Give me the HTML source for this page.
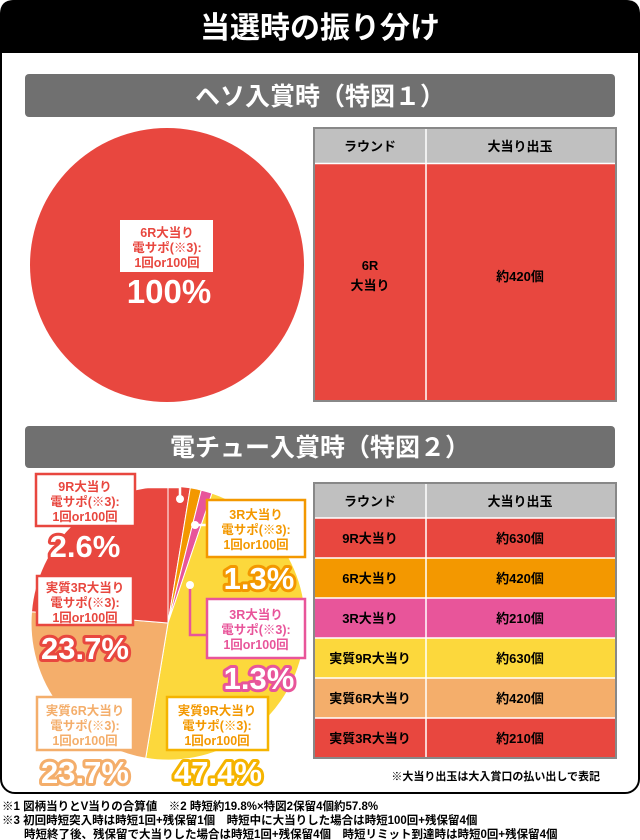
<!DOCTYPE html>
<html><head><meta charset="utf-8"><style>
html,body{margin:0;padding:0;background:#fff;}
svg{display:block;}
text{font-family:"Liberation Sans","Noto Sans CJK JP",sans-serif;font-weight:bold;}
</style></head><body>
<svg width="640" height="840" viewBox="0 0 640 840" xmlns="http://www.w3.org/2000/svg">
<rect x="1" y="1" width="638" height="792" rx="14" fill="#fff" stroke="#000" stroke-width="2"/>
<path d="M0 53 V14 Q0 0 14 0 H626 Q640 0 640 14 V53 Z" fill="#000"/>
<text x="320" y="38" font-size="30" fill="#fff" text-anchor="middle">当選時の振り分け</text>

<rect x="25" y="74" width="590" height="43" rx="4" fill="#707070"/>
<text x="320" y="105" font-size="25" fill="#fff" text-anchor="middle" font-weight="normal">ヘソ入賞時（特図１）</text>

<ellipse cx="167" cy="265" rx="137" ry="137" fill="#e8473f"/>
<rect x="120" y="220" width="93" height="52" fill="#fff"/>
<g font-size="12.5" fill="#e8473f" text-anchor="middle">
<text x="167" y="237">6R大当り</text><text x="167" y="252">電サポ(※3):</text><text x="167" y="267">1回or100回</text></g>
<text x="169" y="303" font-size="33" fill="#fff" text-anchor="middle">100%</text>

<rect x="314" y="128" width="302" height="273" fill="#e8473f" stroke="#888" stroke-width="2"/>
<rect x="315" y="129" width="300" height="34" fill="#c0c0c0"/>
<line x1="426" y1="129" x2="426" y2="400" stroke="#fff" stroke-width="1.5"/>
<line x1="315" y1="163.5" x2="615" y2="163.5" stroke="#fff" stroke-width="1.5"/>
<g font-size="13" fill="#000" text-anchor="middle">
<text x="370" y="151">ラウンド</text><text x="520" y="151">大当り出玉</text>
<text x="370" y="270">6R</text><text x="370" y="290">大当り</text>
<text x="520" y="281">約420個</text></g>

<rect x="25" y="426" width="590" height="42" rx="4" fill="#707070"/>
<text x="320" y="456" font-size="25" fill="#fff" text-anchor="middle" font-weight="normal">電チュー入賞時（特図２）</text>

<g stroke="#fff" stroke-width="1">
<path d="M168 623 L168 486 A137 137 0 0 1 190.3 487.8 Z" fill="#e8473f"/>
<path d="M168 623 L190.3 487.8 A137 137 0 0 1 201.2 490.1 Z" fill="#f39800"/>
<path d="M168 623 L201.2 490.1 A137 137 0 0 1 212.0 493.2 Z" fill="#e8559a"/>
<path d="M168 623 L212.0 493.2 A137 137 0 0 1 145.7 758.2 Z" fill="#fcd83c"/>
<path d="M168 623 L145.7 758.2 A137 137 0 0 1 31.5 611.8 Z" fill="#f4ae6b"/>
<path d="M168 623 L31.5 611.8 A137 137 0 0 1 168 486 Z" fill="#e8473f"/>
</g>

<g stroke-width="2.5" fill="none">
<path d="M135 487 H180 V498" stroke="#fff"/>
<path d="M196 525 H207" stroke="#fff"/>
<path d="M190 585 V635 H207" stroke="#e8559a"/>
</g>
<circle cx="180" cy="499" r="4" fill="#fff"/>
<circle cx="195" cy="525" r="4" fill="#fff"/>
<circle cx="190" cy="585" r="4" fill="#fff"/>

<g stroke-width="2.5" fill="#fff">
<rect x="36" y="474" width="99" height="52" stroke="#e8473f"/>
<rect x="207" y="500" width="98" height="57" stroke="#f39800"/>
<rect x="207" y="599" width="98" height="59" stroke="#e8559a"/>
<rect x="37" y="576" width="96" height="49" stroke="#e8473f"/>
<rect x="37" y="697" width="96" height="53" stroke="#f4ae6b"/>
<rect x="167" y="697" width="101" height="53" stroke="#f5b400"/>
</g>
<g font-size="12.5" text-anchor="middle">
<g fill="#e8473f"><text x="85" y="491">9R大当り</text><text x="85" y="506">電サポ(※3):</text><text x="85" y="521">1回or100回</text></g>
<g fill="#f39800"><text x="256" y="519">3R大当り</text><text x="256" y="534">電サポ(※3):</text><text x="256" y="549">1回or100回</text></g>
<g fill="#e8559a"><text x="256" y="619">3R大当り</text><text x="256" y="634">電サポ(※3):</text><text x="256" y="649">1回or100回</text></g>
<g fill="#e8473f"><text x="85" y="592">実質3R大当り</text><text x="85" y="607">電サポ(※3):</text><text x="85" y="622">1回or100回</text></g>
<g fill="#f4ae6b"><text x="85" y="715">実質6R大当り</text><text x="85" y="730">電サポ(※3):</text><text x="85" y="745">1回or100回</text></g>
<g fill="#f39800"><text x="217" y="715">実質9R大当り</text><text x="217" y="730">電サポ(※3):</text><text x="217" y="745">1回or100回</text></g>
</g>
<g font-size="31" fill="#fff" stroke-width="6" paint-order="stroke" stroke-linejoin="round" text-anchor="middle">
<text x="85" y="557" stroke="#e8473f">2.6%</text>
<text x="259" y="589" stroke="#f39800">1.3%</text>
<text x="259" y="689" stroke="#e8559a">1.3%</text>
<text x="85" y="659" stroke="#e8473f">23.7%</text>
<text x="85" y="783" stroke="#f4ae6b">23.7%</text>
<text x="218" y="783" stroke="#f5b400">47.4%</text>
</g>

<rect x="314" y="483" width="302" height="275" fill="#fff" stroke="#888" stroke-width="2"/>
<rect x="315" y="484" width="300" height="34" fill="#c0c0c0"/>
<rect x="315" y="518" width="300" height="40" fill="#e8473f"/>
<rect x="315" y="558" width="300" height="40" fill="#f39800"/>
<rect x="315" y="598" width="300" height="40" fill="#e8559a"/>
<rect x="315" y="638" width="300" height="40" fill="#fcd83c"/>
<rect x="315" y="678" width="300" height="40" fill="#f4ae6b"/>
<rect x="315" y="718" width="300" height="39" fill="#e8473f"/>
<g stroke="#fff" stroke-width="1.5">
<line x1="426" y1="484" x2="426" y2="757"/>
<line x1="315" y1="518" x2="615" y2="518"/><line x1="315" y1="558" x2="615" y2="558"/>
<line x1="315" y1="598" x2="615" y2="598"/><line x1="315" y1="638" x2="615" y2="638"/>
<line x1="315" y1="678" x2="615" y2="678"/><line x1="315" y1="718" x2="615" y2="718"/>
</g>
<g font-size="13" fill="#000" text-anchor="middle">
<text x="370" y="506">ラウンド</text><text x="520" y="506">大当り出玉</text>
<text x="370" y="543">9R大当り</text><text x="520" y="543">約630個</text>
<text x="370" y="583">6R大当り</text><text x="520" y="583">約420個</text>
<text x="370" y="623">3R大当り</text><text x="520" y="623">約210個</text>
<text x="370" y="663">実質9R大当り</text><text x="520" y="663">約630個</text>
<text x="370" y="703">実質6R大当り</text><text x="520" y="703">約420個</text>
<text x="370" y="743">実質3R大当り</text><text x="520" y="743">約210個</text>
</g>
<text x="600" y="780" font-size="11" fill="#000" text-anchor="end">※大当り出玉は大入賞口の払い出しで表記</text>

<g font-size="11.5" fill="#000">
<text x="2" y="810">※1 図柄当りとV当りの合算値　※2 時短約19.8%×特図2保留4個約57.8%</text>
<text x="2" y="824">※3 初回時短突入時は時短1回+残保留1個　時短中に大当りした場合は時短100回+残保留4個</text>
<text x="24" y="838">時短終了後、残保留で大当りした場合は時短1回+残保留4個　時短リミット到達時は時短0回+残保留4個</text>
</g>
</svg>
</body></html>
